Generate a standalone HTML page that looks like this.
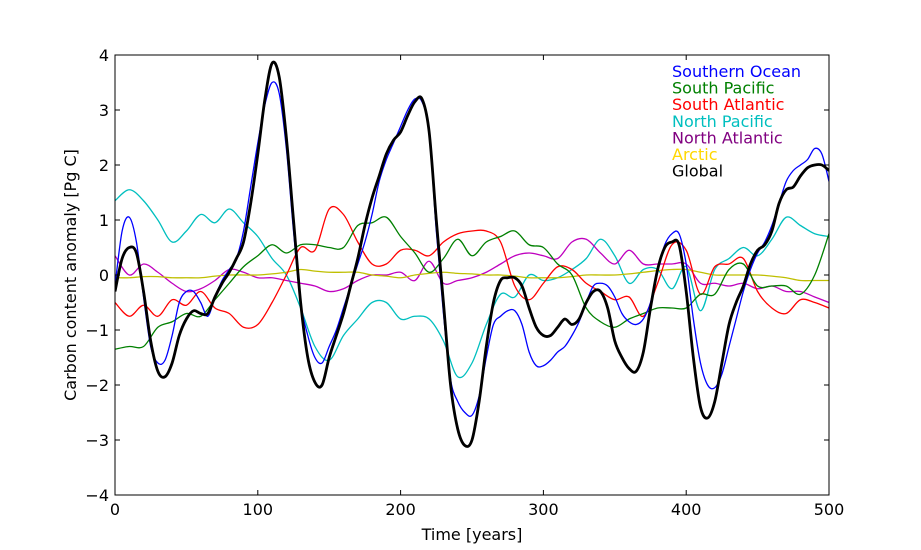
<!DOCTYPE html>
<html><head><meta charset="utf-8"><style>
body{margin:0;background:#fff}
svg{display:block;font-family:"DejaVu Sans","Liberation Sans",sans-serif}
</style></head><body>
<svg id="chart" width="921" height="550"></svg>
<script>
const years5=[];for(let t=0;t<=500;t+=5)years5.push(t);
const years10=[];for(let t=0;t<=500;t+=10)years10.push(t);
const globalVals=[-0.3,0.3,0.5,0.4,-0.3,-1.2,-1.75,-1.85,-1.6,-1.1,-0.8,-0.65,-0.7,-0.7,-0.4,-0.15,0.05,0.3,0.6,1.3,2.2,3.2,3.85,3.6,2.5,1.0,-0.5,-1.5,-1.95,-2.0,-1.5,-1.1,-0.7,-0.2,0.3,0.9,1.4,1.8,2.2,2.45,2.6,2.9,3.15,3.2,2.6,1.0,-0.5,-2.0,-2.8,-3.1,-3.0,-2.3,-1.3,-0.5,-0.1,-0.05,-0.05,-0.2,-0.6,-0.95,-1.1,-1.1,-0.95,-0.8,-0.9,-0.8,-0.5,-0.3,-0.3,-0.6,-1.2,-1.5,-1.7,-1.75,-1.4,-0.6,0.1,0.5,0.6,0.55,-0.3,-1.5,-2.4,-2.6,-2.3,-1.6,-0.9,-0.5,-0.2,0.2,0.45,0.55,0.8,1.3,1.55,1.6,1.8,1.95,2.0,2.0,1.9];
const southernOcean=[-0.2,0.8,1.05,0.6,-0.4,-1.3,-1.6,-1.55,-1.1,-0.5,-0.3,-0.3,-0.5,-0.75,-0.4,-0.1,0.1,0.3,0.8,1.6,2.4,3.1,3.5,3.3,2.3,0.8,-0.5,-1.1,-1.5,-1.6,-1.3,-1.0,-0.6,-0.2,0.2,0.6,1.1,1.7,2.1,2.4,2.7,3.0,3.2,3.15,2.6,0.8,-0.7,-1.9,-2.3,-2.5,-2.55,-2.2,-1.5,-0.9,-0.75,-0.65,-0.65,-0.9,-1.4,-1.65,-1.65,-1.55,-1.4,-1.3,-1.1,-0.85,-0.5,-0.2,-0.15,-0.2,-0.4,-0.7,-0.85,-0.9,-0.8,-0.5,0.1,0.55,0.75,0.75,0.2,-0.8,-1.6,-2.0,-2.05,-1.8,-1.3,-0.8,-0.3,0.1,0.4,0.6,0.9,1.3,1.7,1.9,2.0,2.1,2.3,2.2,1.7];
const southPacific=[-1.35,-1.3,-1.3,-0.95,-0.85,-0.7,-0.75,-0.45,-0.15,0.15,0.35,0.55,0.4,0.55,0.55,0.5,0.5,0.9,0.95,1.05,0.7,0.4,0.05,0.3,0.65,0.35,0.6,0.7,0.8,0.55,0.5,0.2,0.0,-0.6,-0.85,-0.95,-0.8,-0.7,-0.6,-0.6,-0.6,-0.35,-0.35,0.1,0.2,-0.2,-0.2,-0.2,-0.35,0.0,0.75];
const southAtlantic=[-0.5,-0.75,-0.55,-0.75,-0.45,-0.55,-0.3,-0.6,-0.7,-0.95,-0.9,-0.5,0.0,0.5,0.45,1.2,1.1,0.6,0.2,0.2,0.45,0.45,0.35,0.6,0.75,0.8,0.8,0.6,-0.2,-0.45,-0.15,0.15,0.1,-0.15,-0.3,-0.45,-0.4,-0.75,-0.15,0.55,0.45,-0.35,0.15,0.2,0.3,-0.3,-0.6,-0.7,-0.45,-0.5,-0.6];
const northPacific=[1.35,1.55,1.35,1.0,0.6,0.8,1.1,0.95,1.2,0.95,0.7,0.3,0.0,-0.6,-1.3,-1.55,-1.1,-0.8,-0.5,-0.5,-0.8,-0.75,-0.8,-1.2,-1.85,-1.6,-0.9,-0.35,-0.4,0.0,-0.1,-0.05,0.1,0.3,0.65,0.35,-0.15,0.1,0.1,-0.25,0.15,-0.65,0.1,0.3,0.5,0.35,0.65,1.05,0.9,0.75,0.7];
const northAtlantic=[0.35,0.0,0.2,0.05,-0.15,-0.3,-0.25,-0.1,0.1,0.05,-0.05,-0.05,-0.1,-0.15,-0.2,-0.3,-0.25,-0.1,0.0,0.0,0.05,-0.1,0.25,-0.15,-0.1,-0.05,0.05,0.2,0.35,0.4,0.35,0.3,0.6,0.65,0.4,0.2,0.45,0.2,0.2,0.2,0.2,-0.15,-0.15,-0.2,-0.15,-0.25,-0.2,-0.3,-0.3,-0.4,-0.5];
const arctic=[-0.05,-0.05,-0.03,-0.03,-0.05,-0.05,-0.05,-0.02,0.0,0.0,0.0,0.02,0.05,0.1,0.07,0.05,0.05,0.05,0.0,-0.02,-0.05,0.0,0.03,0.05,0.03,0.02,0.0,0.0,-0.02,-0.05,-0.05,-0.05,-0.03,0.0,0.0,0.0,0.02,0.05,0.08,0.1,0.1,0.05,0.0,0.0,0.0,0.0,-0.02,-0.05,-0.1,-0.1,-0.1];
const xTicks=[0,100,200,300,400,500];
const yTicks=[-4,-3,-2,-1,0,1,2,3,4];
const legendLabels=["Southern Ocean","South Pacific","South Atlantic","North Pacific","North Atlantic","Arctic","Global"];

const L=115,R=829,T=55,B=495,NS="http://www.w3.org/2000/svg";
const xs=t=>L+(t-0)/500*(R-L);
const ys=v=>T+(4-v)/8*(B-T);
const svg=document.getElementById('chart');
function el(tag,a,p){const e=document.createElementNS(NS,tag);for(const k in a)e.setAttribute(k,a[k]);(p||svg).appendChild(e);return e;}
function pathD(xv,yv){const p=xv.map((t,i)=>[xs(t),ys(yv[i])]);let d=`M${p[0][0]},${p[0][1]}`;
 for(let i=0;i<p.length-1;i++){const p0=p[i-1]||p[i],p1=p[i],p2=p[i+1],p3=p[i+2]||p2;
  d+=` C${p1[0]+(p2[0]-p0[0])/6},${p1[1]+(p2[1]-p0[1])/6} ${p2[0]-(p3[0]-p1[0])/6},${p2[1]-(p3[1]-p1[1])/6} ${p2[0]},${p2[1]}`;}
 return d;}
const clip=el('clipPath',{id:'pc'});el('rect',{x:L,y:T,width:R-L,height:B-T},clip);
const series=[
 ['north-pacific-line',years10,northPacific,'#00bfbf',1.3],
 ['north-atlantic-line',years10,northAtlantic,'#bf00bf',1.3],
 ['arctic-line',years10,arctic,'#bfbf00',1.3],
 ['south-atlantic-line',years10,southAtlantic,'#ff0000',1.3],
 ['south-pacific-line',years10,southPacific,'#008000',1.3],
 ['southern-ocean-line',years5,southernOcean,'#0000ff',1.3],
 ['global-line',years5,globalVals,'#000000',2.8]];
for(const s of series){
 const p=el('path',{d:pathD(s[1],s[2]),fill:'none',stroke:s[3],'stroke-width':s[4],'clip-path':'url(#pc)'});
 
 
}
const frame=el('rect',{x:L,y:T,width:R-L,height:B-T,fill:'none',stroke:'#000','stroke-width':1});


for(const t of xTicks){
 el('line',{x1:xs(t),x2:xs(t),y1:B,y2:B-5,stroke:'#000'});
 el('line',{x1:xs(t),x2:xs(t),y1:T,y2:T+5,stroke:'#000'});
 const tx=el('text',{x:xs(t),y:B+20,'text-anchor':'middle','font-size':16});tx.textContent=t;
 
 
}
for(const v of yTicks){
 el('line',{x1:L,x2:L+5,y1:ys(v),y2:ys(v),stroke:'#000'});
 el('line',{x1:R,x2:R-5,y1:ys(v),y2:ys(v),stroke:'#000'});
 const tx=el('text',{x:L-6,y:ys(v)+6,'text-anchor':'end','font-size':16});tx.textContent=(v<0?'\u2212'+(-v):v);
 
 
}
const xl=el('text',{x:472,y:540,'text-anchor':'middle','font-size':16});xl.textContent='Time [years]';


const yl=el('text',{x:0,y:0,'text-anchor':'middle','font-size':16,transform:'translate(76,275) rotate(-90)'});yl.textContent='Carbon content anomaly [Pg C]';


const lc=['#0000ff','#008000','#ff0000','#00bfbf','#800080','#ffd700','#000000'];
legendLabels.forEach((lab,i)=>{
 const tx=el('text',{x:672,y:77+i*16.6,'font-size':16,fill:lc[i]});tx.textContent=lab;
 
 
});
</script>
</body></html>
